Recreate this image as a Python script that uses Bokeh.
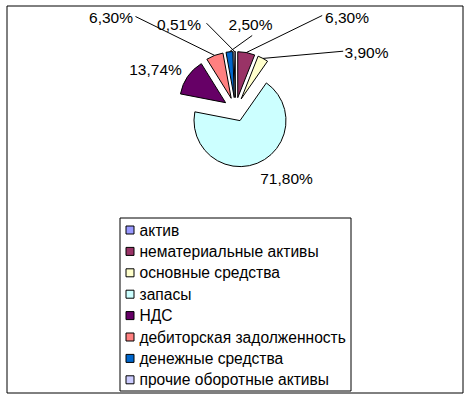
import math
from bokeh.plotting import figure
from bokeh.models import Range1d
from bokeh.core.properties import value
from bokeh.embed import file_html
from bokeh.resources import INLINE

# ---- data ----
categories = ["актив", "нематериальные активы", "основные средства", "запасы",
              "НДС", "дебиторская задолженность", "денежные средства",
              "прочие оборотные активы"]
values = [0.0, 6.30, 3.90, 71.80, 13.74, 6.30, 2.50, 0.51]
labels = ["", "6,30%", "3,90%", "71,80%", "13,74%", "6,30%", "2,50%", "0,51%"]
colors = ["#9999FF", "#993366", "#FFFFCC", "#CCFFFF", "#660066", "#FF8080",
          "#0066CC", "#CCCCFF"]

# ---- layout (pixel coordinates of the reference picture) ----
OX, OY = 0, 0            # figure origin in the picture
W, H = 466, 396
CX, CY, R, EXPL = 235.0, 109.0, 46.0, 12.0
FONT = value("Liberation Sans")
label_pos = {1: (346.5, 17), 2: (366, 52), 3: (286, 177.5), 4: (155, 69),
             5: (110.5, 17), 6: (250, 24), 7: (178.5, 23.5)}
leader_from = {1: (321.7, 15), 2: (342.7, 50.7), 5: (135, 16),
               6: (251.7, 35), 7: (206, 22.7)}

p = figure(width=W, height=H, output_backend="svg", toolbar_location=None,
           x_range=Range1d(OX, OX + W), y_range=Range1d(-(OY + H), -OY),
           x_axis_type=None, y_axis_type=None, min_border=0,
           background_fill_color="white", border_fill_color="white")
p.outline_line_color = None
p.grid.visible = False

def Y(y):
    return -y

# outer frame
p.quad(left=[6.5], right=[462.5], top=[Y(5.5)], bottom=[Y(392.5)],
       fill_color=None, line_color="black", line_width=1)

# pie
total = sum(values)
wx, wy, sa, ea, wc = [], [], [], [], []
lx0, ly0, lx1, ly1 = [], [], [], []
acc = 0.0
for i, v in enumerate(values):
    t1 = acc / total * 360.0
    acc += v
    t2 = acc / total * 360.0
    if v <= 0:
        continue
    tm = math.radians((t1 + t2) / 2)
    vx = CX + EXPL * math.sin(tm)
    vy = CY - EXPL * math.cos(tm)
    wx.append(vx); wy.append(Y(vy))
    sa.append(math.radians(90 - t2)); ea.append(math.radians(90 - t1))
    wc.append(colors[i])
    if i in leader_from:
        ox_ = vx + R * math.sin(tm)
        oy_ = vy - R * math.cos(tm)
        fx, fy = leader_from[i]
        lx0.append(fx); ly0.append(Y(fy)); lx1.append(ox_); ly1.append(Y(oy_))

p.wedge(x=wx, y=wy, radius=R, start_angle=sa, end_angle=ea,
        direction="anticlock", fill_color=wc, line_color="black", line_width=1)
p.segment(x0=lx0, y0=ly0, x1=lx1, y1=ly1, line_color="black", line_width=1)

tx = [label_pos[i][0] for i in label_pos]
ty = [Y(label_pos[i][1]) for i in label_pos]
tt = [labels[i] for i in label_pos]
p.text(x=tx, y=ty, text=tt, text_font=FONT, text_font_size="15.5px",
       text_align="center", text_baseline="middle", text_color="black")

# legend
LX0, LY0, LX1, LY1 = 119.5, 217.5, 350.5, 390.5
p.quad(left=[LX0], right=[LX1], top=[Y(LY0)], bottom=[Y(LY1)],
       fill_color="white", line_color="black", line_width=1)
row0, step = 229.5, 21.4
rows = [row0 + k * step for k in range(len(categories))]
p.quad(left=[125.5] * len(rows), right=[133.5] * len(rows),
       top=[Y(r - 4) for r in rows], bottom=[Y(r + 4) for r in rows],
       fill_color=colors, line_color="black", line_width=1)
p.text(x=[139] * len(rows), y=[Y(r) for r in rows], text=categories,
       text_font=FONT, text_font_size="15.6px", text_align="left",
       text_baseline="middle", text_color="black")

open("out.html", "w").write(file_html(p, INLINE))
